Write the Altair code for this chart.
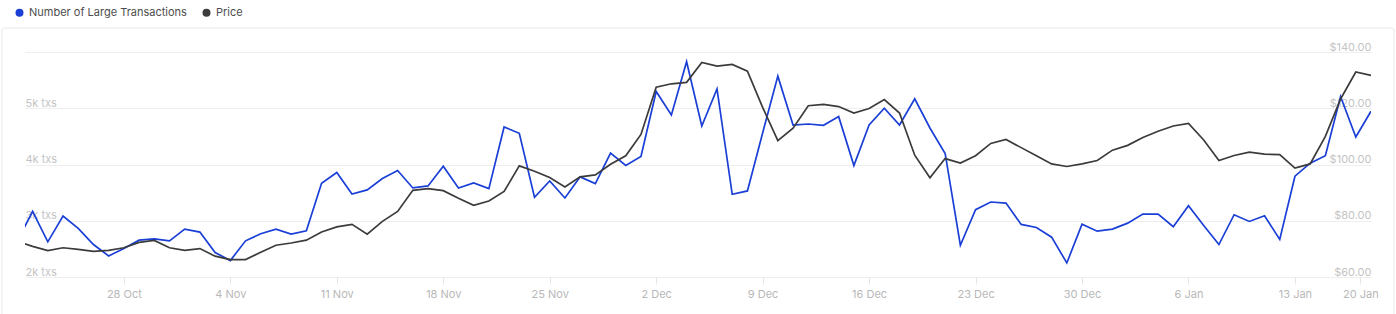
import altair as alt
import pandas as pd

# Daily series, 21 Oct 2024 .. 18 Jan 2025
start = pd.Timestamp("2024-10-21")
dates = pd.date_range("2024-10-21", "2025-01-18", freq="D")

large_tx = [
    2640, 3167, 2625, 3083, 2863, 2577, 2375, 2506, 2655, 2679,
    2643, 2851, 2798, 2435, 2292, 2643, 2768, 2851, 2762, 2821,
    3667, 3857, 3476, 3548, 3750, 3893, 3583, 3619, 3970, 3583,
    3673, 3571, 4667, 4554, 3417, 3708, 3405, 3780, 3661, 4202,
    3982, 4143, 5298, 4881, 5827, 4685, 5345, 3470, 3530, 4560,
    5571, 4702, 4720, 4696, 4851, 3982, 4702, 5000, 4702, 5167,
    4649, 4196, 2565, 3196, 3333, 3315, 2935, 2881, 2708, 2250,
    2940, 2815, 2851, 2958, 3119, 3119, 2893, 3268, 2917, 2577,
    3107, 2988, 3089, 2667, 3792, 4024, 4155, 5208, 4488, 4946,
]

price = [
    72.7, 70.9, 69.4, 70.4, 69.8, 69.1, 69.5, 70.4, 72.3, 73.0,
    70.4, 69.5, 70.1, 67.4, 66.2, 66.2, 68.8, 71.3, 72.1, 73.1,
    76.0, 77.8, 78.7, 75.2, 79.8, 83.3, 90.8, 91.4, 90.7, 88.0,
    85.5, 87.0, 90.4, 99.5, 97.6, 95.4, 92.0, 95.6, 96.3, 100.1,
    103.1, 110.7, 127.5, 128.7, 129.2, 136.3, 135.0, 135.6, 133.2, 120.3,
    108.5, 112.9, 120.9, 121.4, 120.6, 118.3, 119.9, 123.1, 118.3, 103.3,
    95.3, 102.1, 100.5, 103.1, 107.5, 108.9, 106.0, 103.1, 100.2, 99.3,
    100.2, 101.4, 105.1, 106.8, 109.6, 111.8, 113.7, 114.6, 108.7, 101.4,
    103.2, 104.4, 103.7, 103.5, 98.7, 100.2, 110.0, 123.3, 132.9, 131.7,
]

# x-axis ticks, in days since 21 Oct
tick_days = [7, 14, 21, 28, 35, 42, 49, 56, 63, 70, 77, 84, 88.3]
tick_labels = ["28 Oct", "4 Nov", "11 Nov", "18 Nov", "25 Nov", "2 Dec", "9 Dec",
               "16 Dec", "23 Dec", "30 Dec", "6 Jan", "13 Jan", "20 Jan"]

tx_ticks = [2000, 3000, 4000, 5000, 6000]
price_ticks = [60, 80, 100, 120, 140]

series_names = ["Number of Large Transactions", "Price"]
series_colors = ["#1a3fd6", "#3b3b3b"]

df = pd.DataFrame({
    "day": (dates - start).days,
    "large_tx": large_tx,
    "price": price,
})

FONT = "Inter"
W, H = 1346, 225

labels_js = "[" + ",".join(f"'{t}'" for t in tick_labels) + "]"
days_js = "[" + ",".join(str(d) for d in tick_days) + "]"

x_enc = alt.X(
    "day:Q",
    scale=alt.Scale(domain=[0.5, 89], nice=False, zero=False),
    axis=alt.Axis(
        values=tick_days,
        labelExpr=f"{labels_js}[indexof({days_js}, datum.value)]",
        title=None, domain=False, grid=False,
        ticks=True, tickSize=7, tickColor="#e6e6e6",
        labelPadding=4, labelColor="#b8b8b8", labelFontSize=11, labelFont=FONT,
        labelFlush=False, labelOverlap=False,
    ),
)

color_scale = alt.Scale(domain=series_names, range=series_colors)

# Legend comes from a filled-point layer so the swatches are solid dots
legend = alt.Legend(
    orient="none", legendX=-11, legendY=-45, direction="horizontal",
    title=None, symbolType="circle", symbolSize=64, symbolOpacity=1,
    symbolStrokeWidth=0,
    labelFontSize=11, labelColor="#4d4d4d", labelFont=FONT, labelLimit=400,
    labelOffset=4, columnPadding=14, padding=0,
)

tx_line = alt.Chart(df).transform_calculate(
    series=f"'{series_names[0]}'"
).mark_line(strokeWidth=1.7, clip=True).encode(
    x=x_enc,
    y=alt.Y(
        "large_tx:Q",
        scale=alt.Scale(domain=[2000, 6000], nice=False, zero=False),
        axis=alt.Axis(
            orient="left", values=tx_ticks, title=None,
            labelExpr="datum.value >= 6000 ? '' : format(datum.value / 1000, 'd') + 'k txs'",
            labelAlign="left", labelBaseline="bottom", labelPadding=0,
            ticks=False, tickSize=0, domain=False,
            grid=True, gridColor="#eeeeee", gridWidth=1,
            labelColor="#c4c4c4", labelFontSize=11, labelFont=FONT,
            labelFlush=False, labelOverlap=False,
        ),
    ),
    stroke=alt.Stroke("series:N", scale=color_scale, legend=None),
)

price_line = alt.Chart(df).transform_calculate(
    series=f"'{series_names[1]}'"
).mark_line(strokeWidth=1.7, clip=True).encode(
    x=x_enc,
    y=alt.Y(
        "price:Q",
        scale=alt.Scale(domain=[60, 140], nice=False, zero=False),
        axis=alt.Axis(
            orient="right", values=price_ticks, title=None, format="$.2f",
            labelAlign="right", labelBaseline="bottom", labelPadding=0,
            ticks=False, tickSize=0, domain=False, grid=False,
            labelColor="#c4c4c4", labelFontSize=11, labelFont=FONT,
            labelFlush=False, labelOverlap=False,
        ),
    ),
    stroke=alt.Stroke("series:N", scale=color_scale, legend=None),
)

legend_keys = alt.Chart(pd.DataFrame({"series": series_names})).mark_point(
    filled=True, opacity=0, size=1
).encode(
    fill=alt.Fill("series:N", scale=color_scale, legend=legend),
)

# light card outline around the chart
frame = alt.Chart(pd.DataFrame({"k": [0]})).mark_rect(
    fill="transparent", stroke="#e8e8e8", strokeWidth=1, cornerRadius=3
).encode(
    x=alt.value(-23), x2=alt.value(1369), y=alt.value(-24), y2=alt.value(300)
)

chart = alt.layer(frame, legend_keys, tx_line, price_line).resolve_scale(
    y="independent"
).properties(
    width=W, height=H,
    autosize=alt.AutoSizeParams(type="none"),
    padding={"left": 25, "top": 52, "right": 25, "bottom": 37},
    background="white",
).configure_view(strokeWidth=0)

chart.save("out.html", embed_options={"renderer": "svg", "actions": False})
